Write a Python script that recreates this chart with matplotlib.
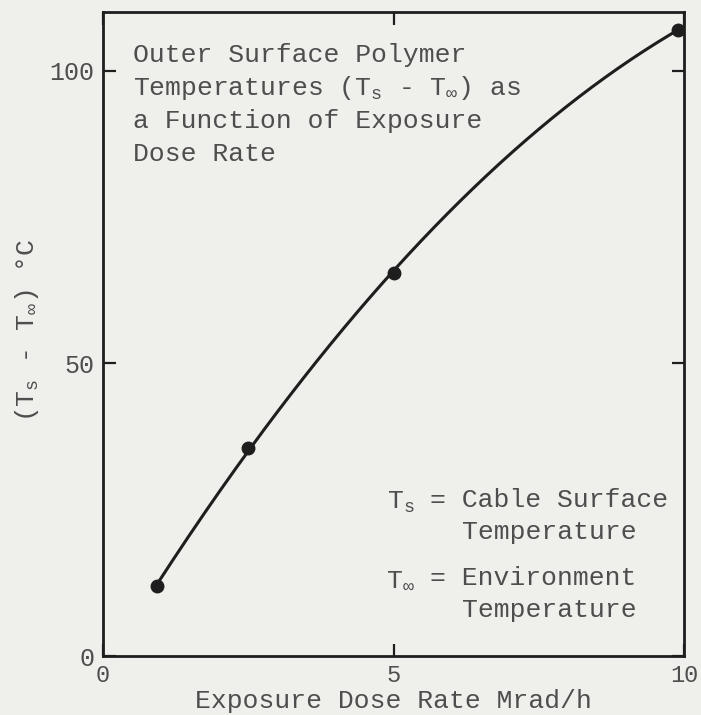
import numpy as np
import matplotlib
matplotlib.use('Agg')
import matplotlib.pyplot as plt

# values
dose_rate = [0.93, 2.5, 5.0, 9.9]          # Mrad/h
temp_rise = [12.0, 35.5, 65.5, 107.0]      # (Ts - Tinf) degC

x_ticks = [0, 5, 10]
y_ticks = [0, 50, 100]

BG = '#efefec'
INK = '#1e1e1e'
TXT = '#4e4e4e'
FONT = 'Liberation Mono'

plt.rcParams['font.family'] = [FONT, 'DejaVu Sans Mono']
plt.rcParams['mathtext.fontset'] = 'custom'
plt.rcParams['mathtext.rm'] = FONT
plt.rcParams['mathtext.it'] = FONT

W, H = 701, 715
fig = plt.figure(figsize=(W / 100, H / 100), dpi=100)
fig.patch.set_facecolor(BG)
ax = fig.add_axes([103 / W, 1 - 656 / H, 581 / W, 644 / H])
ax.set_facecolor(BG)

# smooth curve through the measured points
coef = np.polyfit(dose_rate, temp_rise, 2)
xs = np.linspace(dose_rate[0], dose_rate[-1], 200)
ax.plot(xs, np.polyval(coef, xs), color=INK, lw=2.2, zorder=3)
ax.plot(dose_rate, temp_rise, 'o', color=INK, ms=9, zorder=4)

ax.set_xlim(0, 10)
ax.set_ylim(0, 110)
ax.set_xticks(x_ticks)
ax.set_yticks(y_ticks)
ax.tick_params(direction='in', length=9, width=1.6, colors=INK,
               top=True, right=True, labelcolor=TXT)
ax.tick_params(axis='x', pad=6, labelsize=17)
ax.tick_params(axis='y', pad=6, labelsize=18)
for s in ax.spines.values():
    s.set_linewidth(2)
    s.set_color(INK)

ax.set_xlabel('Exposure Dose Rate Mrad/h', fontsize=19, color=TXT)
ax.xaxis.label.set_va('center')
ax.xaxis.set_label_coords(0.5, (656 - 701) / 644)
ax.set_ylabel(r'(T$_{\mathrm{s}}$ - T$_{\infty}$) °C', fontsize=19, color=TXT)
ax.yaxis.label.set_va('center')
ax.yaxis.set_label_coords((27 - 103) / 581, (656 - 330) / 644)

title_lines = ['Outer Surface Polymer',
               r'Temperatures (T$_{\mathrm{s}}$ - T$_{\infty}$) as',
               'a Function of Exposure',
               'Dose Rate']
for i, line in enumerate(title_lines):
    fig.text(133 / W, 1 - (55 + 33 * i) / H, line, fontsize=19,
             color=TXT, va='center', ha='left')

fig.text(415 / W, 1 - 502 / H, r'T$_{\mathrm{s}}$', fontsize=19, color=TXT,
         va='center', ha='right')
fig.text(430 / W, 1 - 500 / H, '= Cable Surface', fontsize=19, color=TXT, va='center')
fig.text(462 / W, 1 - 532 / H, 'Temperature', fontsize=19, color=TXT, va='center')
fig.text(415 / W, 1 - 580 / H, r'T$_{\infty}$', fontsize=19, color=TXT,
         va='center', ha='right')
fig.text(430 / W, 1 - 578 / H, '= Environment', fontsize=19, color=TXT, va='center')
fig.text(462 / W, 1 - 610 / H, 'Temperature', fontsize=19, color=TXT, va='center')

fig.savefig('out.png', dpi=100, facecolor=BG)
